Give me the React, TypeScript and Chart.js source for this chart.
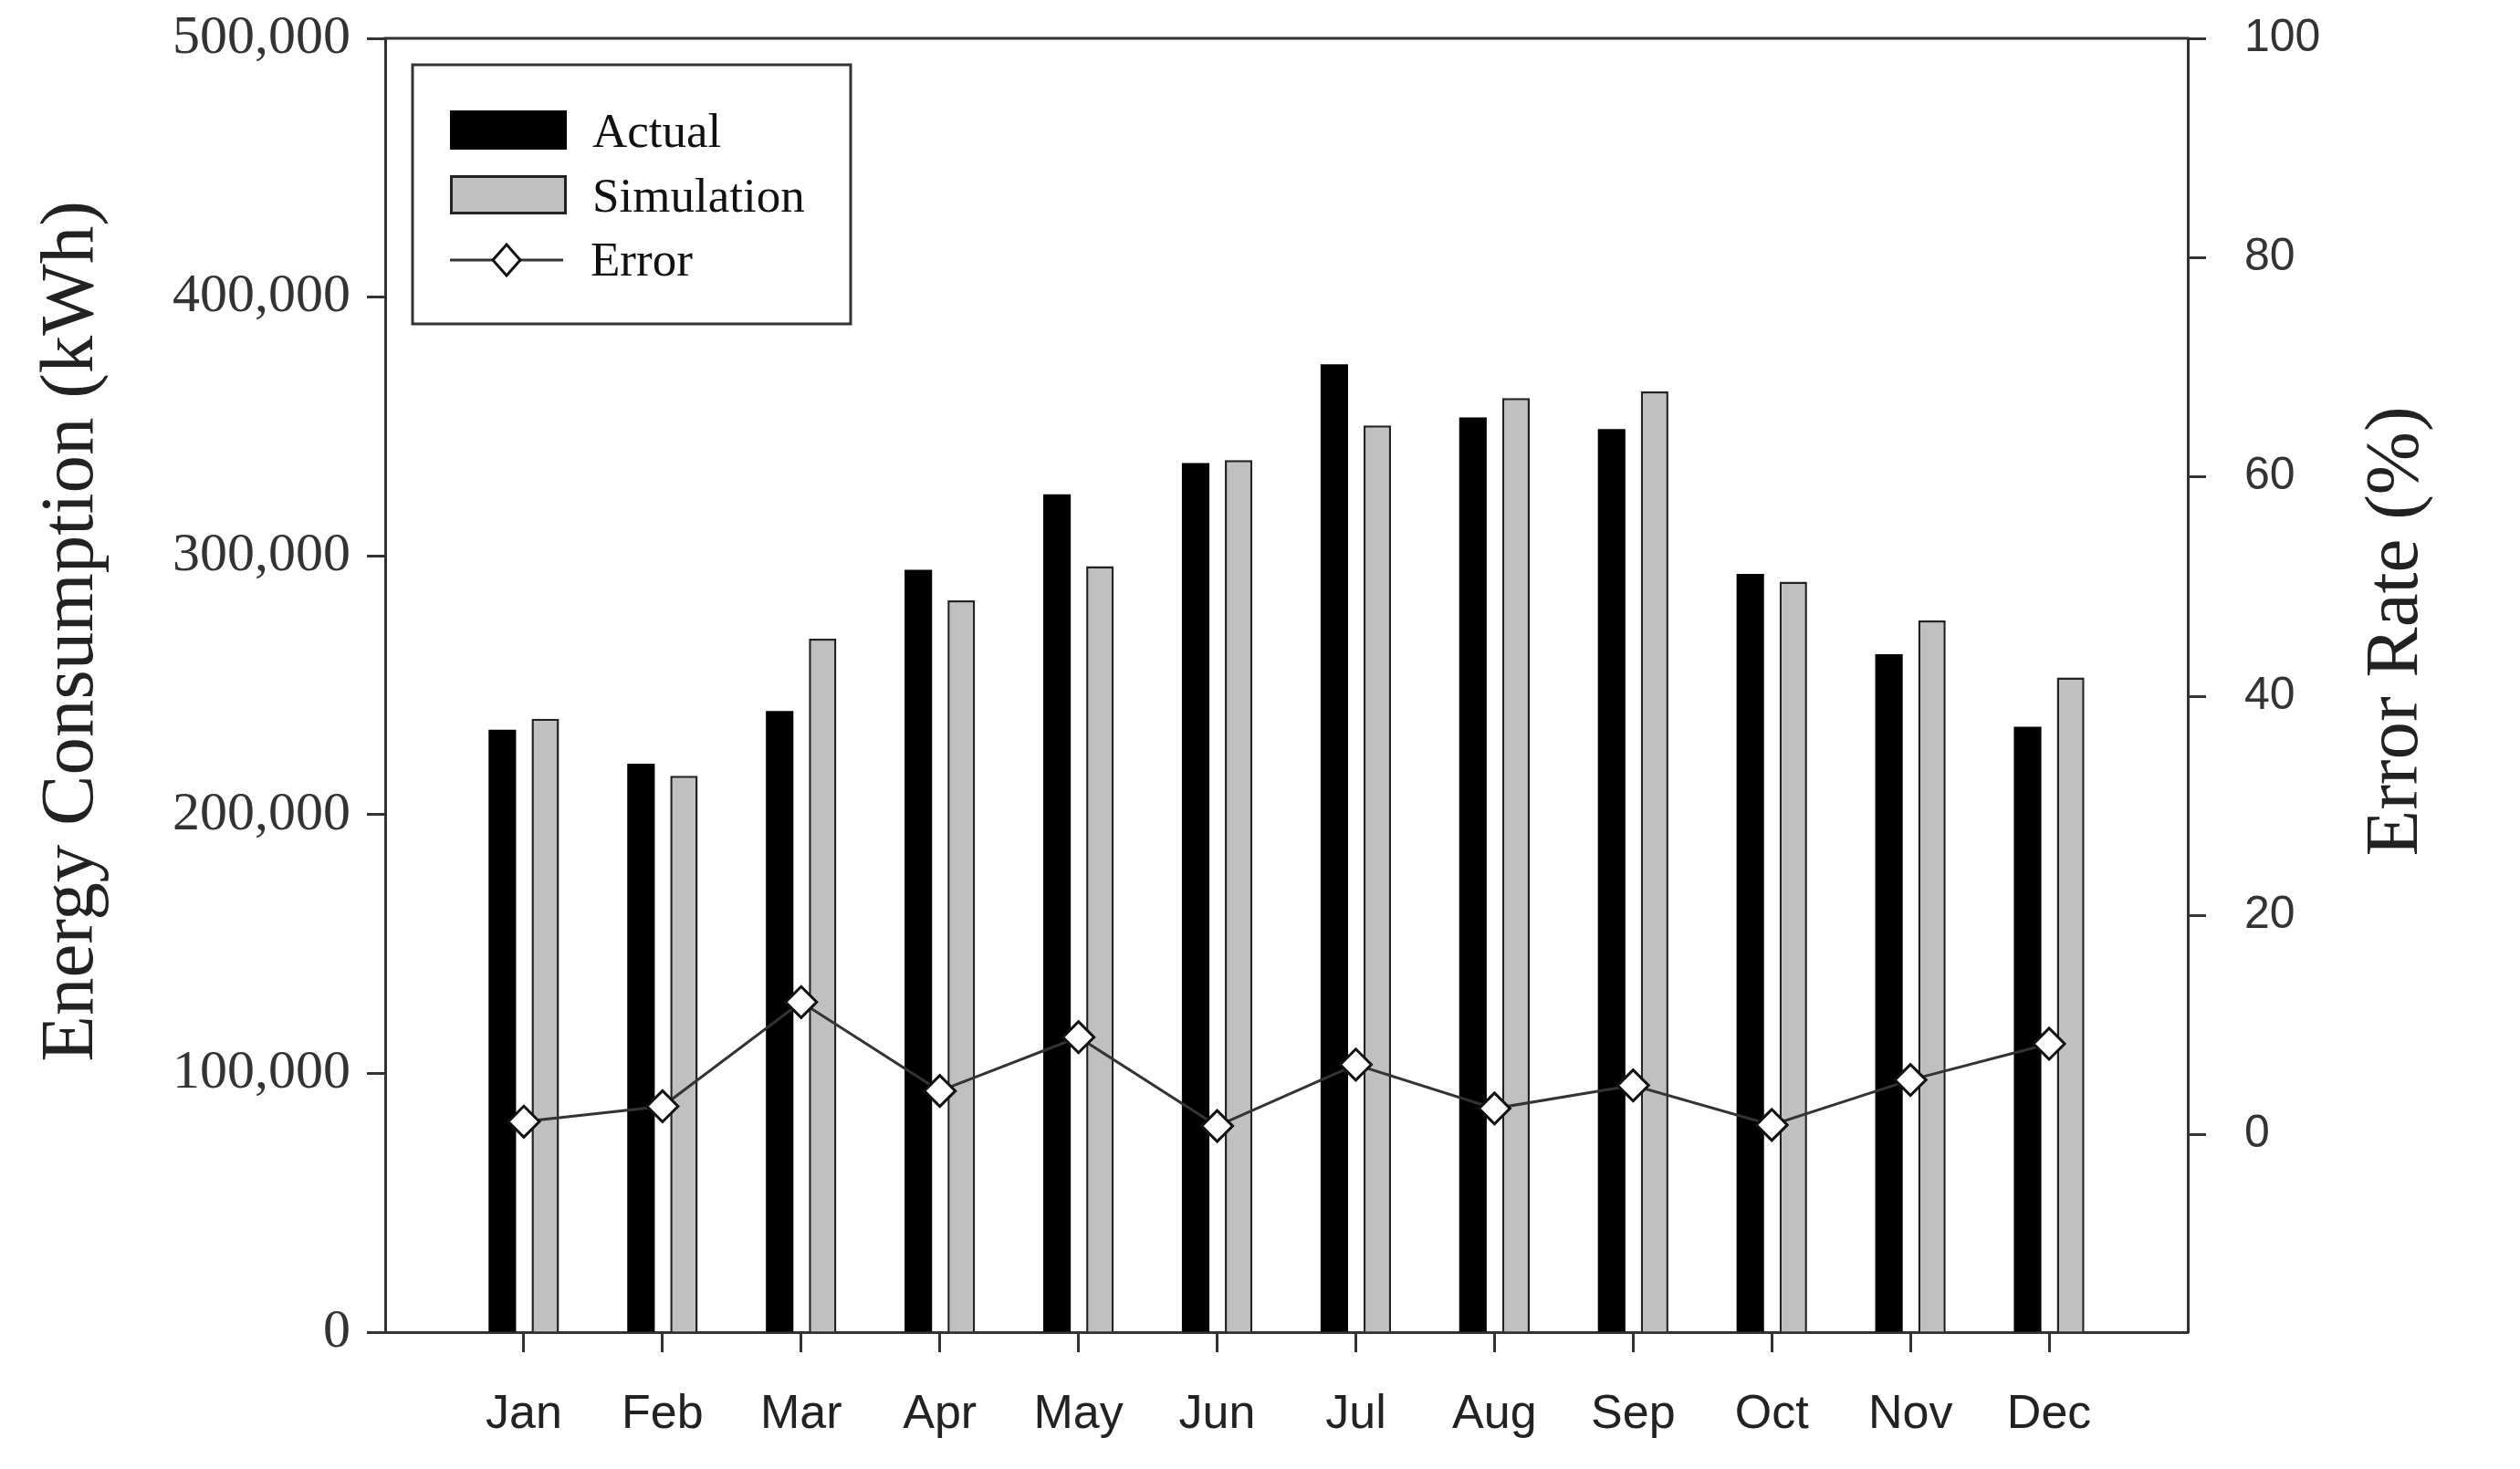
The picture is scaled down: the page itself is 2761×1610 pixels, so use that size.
import React, { useEffect, useRef } from 'react';
import { Chart, registerables } from 'chart.js';

Chart.register(...registerables);

const months = ['Jan', 'Feb', 'Mar', 'Apr', 'May', 'Jun', 'Jul', 'Aug', 'Sep', 'Oct', 'Nov', 'Dec'];
const actual = [232800, 219700, 240000, 294600, 323800, 335900, 374000, 353500, 349000, 293000, 262000, 234000];
const simulation = [237000, 215000, 268000, 282800, 296000, 337000, 350400, 361000, 363500, 290000, 275000, 253000];
const errorRate = [1.2, 2.6, 12.1, 4.0, 8.9, 0.8, 6.4, 2.4, 4.5, 0.9, 5.0, 8.3];
const leftTicks = [0, 100000, 200000, 300000, 400000, 500000];
const rightTicks = [0, 20, 40, 60, 80, 100];

const SERIF = '"Liberation Serif", "Times New Roman", serif';
const SANS = '"Liberation Sans", Arial, sans-serif';
const AXIS = '#333333';

const pad = (arr: number[]) => [null, ...arr, null];

const decorPlugin = {
  id: 'decor',
  afterDraw(chart: any) {
    const { ctx, chartArea } = chart;
    const { left, top, right } = chartArea;
    ctx.save();
    // top frame line
    ctx.strokeStyle = AXIS;
    ctx.lineWidth = 3;
    ctx.beginPath();
    ctx.moveTo(left - 1.5, top);
    ctx.lineTo(right + 1.5, top);
    ctx.stroke();

    // axis titles (both read bottom-to-top)
    ctx.fillStyle = '#222';
    ctx.font = `83px ${SERIF}`;
    ctx.textAlign = 'center';
    ctx.textBaseline = 'middle';
    const midY = 692;
    ctx.save();
    ctx.translate(79, midY);
    ctx.rotate(-Math.PI / 2);
    ctx.fillText('Energy Consumption (kWh)', 0, 0);
    ctx.restore();
    ctx.save();
    ctx.translate(2626, midY);
    ctx.rotate(-Math.PI / 2);
    ctx.fillText('Error Rate (%)', 0, 0);
    ctx.restore();

    // legend box
    const bx = left + 30;
    const by = top + 29;
    ctx.fillStyle = '#fff';
    ctx.fillRect(bx, by, 480, 284);
    ctx.strokeStyle = AXIS;
    ctx.lineWidth = 3;
    ctx.strokeRect(bx, by, 480, 284);

    const sx = left + 71;
    ctx.fillStyle = '#000';
    ctx.fillRect(sx, top + 79, 128, 43);

    ctx.fillStyle = '#c0c0c0';
    ctx.fillRect(sx, top + 150, 128, 43);
    ctx.lineWidth = 3;
    ctx.strokeStyle = '#222';
    ctx.strokeRect(sx + 1.5, top + 151.5, 125, 40);

    const ly = top + 243;
    ctx.strokeStyle = '#333';
    ctx.lineWidth = 3;
    ctx.beginPath();
    ctx.moveTo(sx, ly);
    ctx.lineTo(sx + 124, ly);
    ctx.stroke();
    const dx = left + 133;
    ctx.beginPath();
    ctx.moveTo(dx, ly - 17);
    ctx.lineTo(dx + 15, ly);
    ctx.lineTo(dx, ly + 17);
    ctx.lineTo(dx - 15, ly);
    ctx.closePath();
    ctx.fillStyle = '#fff';
    ctx.fill();
    ctx.strokeStyle = '#111';
    ctx.stroke();

    ctx.fillStyle = '#111';
    ctx.font = `53px ${SERIF}`;
    ctx.textAlign = 'left';
    ctx.textBaseline = 'alphabetic';
    const tx = left + 227;
    ctx.fillText('Actual', tx, top + 119);
    ctx.fillText('Simulation', tx, top + 190);
    ctx.fillText('Error', tx - 2, top + 260);
    ctx.restore();
  },
};

const noOverflow = (s: any) => {
  s.paddingTop = 0;
  s.paddingBottom = 0;
};

export default function App() {
  const canvasRef = useRef<HTMLCanvasElement | null>(null);

  useEffect(() => {
    if (!canvasRef.current) return;
    const labels = ['', ...months, ''];
    const lastIdx = labels.length - 1;
    const chart = new Chart(canvasRef.current, {
      type: 'bar',
      data: {
        labels,
        datasets: [
          {
            type: 'line',
            label: 'Error',
            data: pad(errorRate) as any,
            yAxisID: 'y1',
            borderColor: '#333',
            borderWidth: 3,
            pointStyle: 'rectRot',
            pointRadius: 17,
            pointBackgroundColor: '#fff',
            pointBorderColor: '#111',
            pointBorderWidth: 3,
            spanGaps: false,
            order: 0,
          } as any,
          {
            type: 'bar',
            label: 'Actual',
            data: pad(actual) as any,
            yAxisID: 'y',
            backgroundColor: '#000',
            borderWidth: 0,
            categoryPercentage: 0.62,
            barPercentage: 0.64,
            order: 1,
          },
          {
            type: 'bar',
            label: 'Simulation',
            data: pad(simulation) as any,
            yAxisID: 'y',
            backgroundColor: '#c0c0c0',
            borderColor: '#222',
            borderWidth: 2.5,
            categoryPercentage: 0.62,
            barPercentage: 0.64,
            order: 2,
          },
        ],
      },
      options: {
        animation: false,
        responsive: true,
        maintainAspectRatio: false,
        layout: { padding: { top: 42, left: 0, right: 0, bottom: 0 } },
        plugins: {
          legend: { display: false },
          tooltip: { enabled: false },
          title: { display: false },
        },
        scales: {
          x: {
            type: 'category',
            offset: false,
            grid: {
              display: true,
              drawOnChartArea: false,
              drawTicks: true,
              tickLength: 22,
              offset: false,
              tickWidth: 3,
              tickColor: (c: any) => (c.index === 0 || c.index === lastIdx ? 'rgba(0,0,0,0)' : AXIS),
            },
            border: { display: true, color: AXIS, width: 3 },
            ticks: {
              color: '#222',
              font: { family: SANS, size: 52 },
              padding: 37,
              maxRotation: 0,
              autoSkip: false,
            },
            afterFit: (s: any) => {
              s.height = 150;
              s.paddingLeft = 0;
              s.paddingRight = 0;
            },
          },
          y: {
            type: 'linear',
            position: 'left',
            min: 0,
            max: 500000,
            afterBuildTicks: (s: any) => {
              s.ticks = leftTicks.map((v) => ({ value: v }));
            },
            grid: {
              display: true,
              drawOnChartArea: false,
              tickLength: 20,
              tickWidth: 3,
              tickColor: AXIS,
            },
            border: { display: true, color: AXIS, width: 3 },
            ticks: {
              color: '#333',
              font: { family: SERIF, size: 60 },
              padding: 18,
              callback: (v: any) => Number(v).toLocaleString('en-US'),
            },
            afterFit: (s: any) => {
              s.width = 422;
              noOverflow(s);
            },
          },
          y1: {
            type: 'linear',
            position: 'right',
            min: -18,
            max: 100,
            afterBuildTicks: (s: any) => {
              s.ticks = rightTicks.map((v) => ({ value: v }));
            },
            grid: {
              display: true,
              drawOnChartArea: false,
              tickLength: 20,
              tickWidth: 3,
              tickColor: AXIS,
            },
            border: { display: true, color: AXIS, width: 3 },
            ticks: {
              color: '#333',
              font: { family: SANS, size: 50 },
              padding: 42,
            },
            afterFit: (s: any) => {
              s.width = 364;
              noOverflow(s);
            },
          },
        },
      },
      plugins: [decorPlugin],
    });
    return () => chart.destroy();
  }, []);

  return (
    <div style={{ position: 'absolute', left: 0, top: 0, width: 2761, height: 1610, background: '#fff' }}>
      <canvas ref={canvasRef} />
    </div>
  );
}
